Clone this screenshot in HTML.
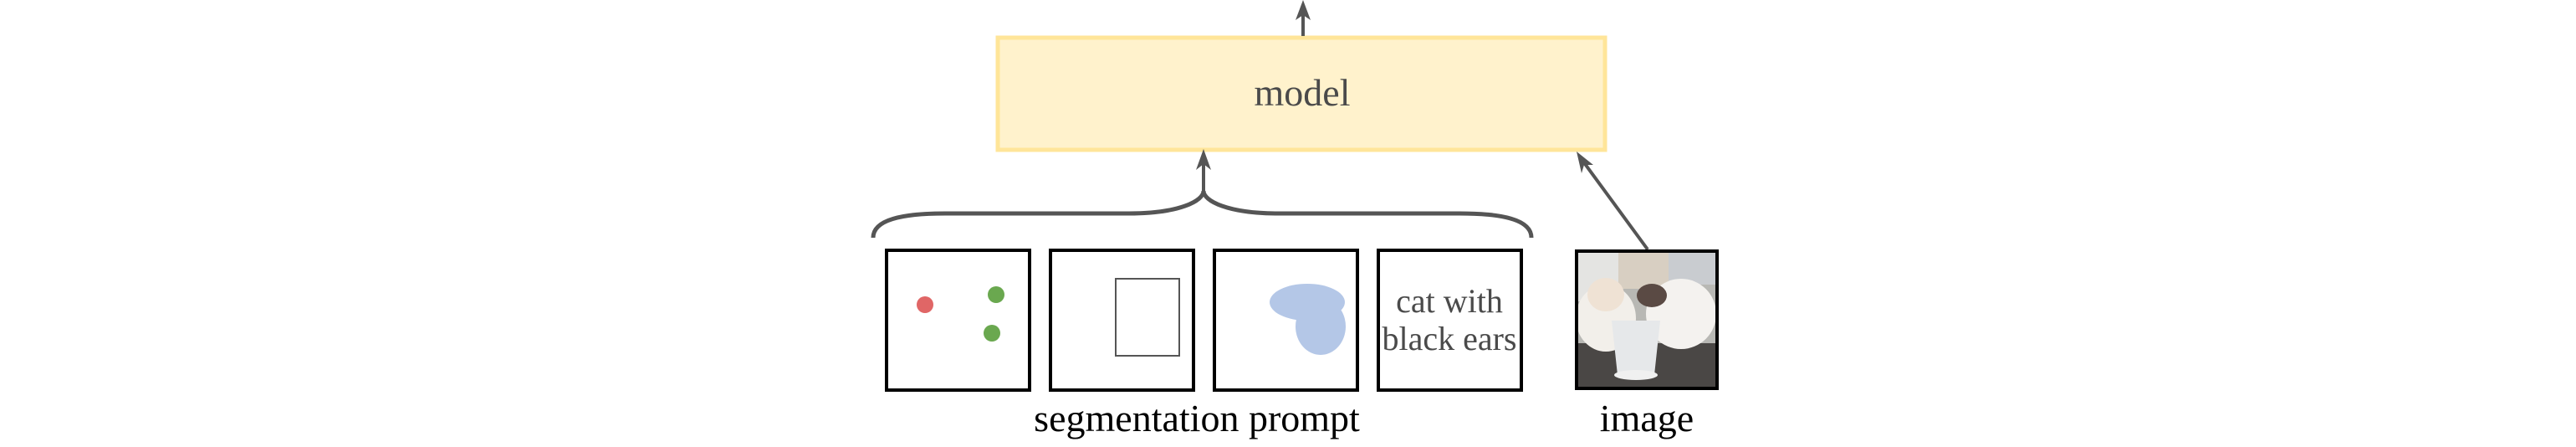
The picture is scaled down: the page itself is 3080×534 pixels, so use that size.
<!DOCTYPE html>
<html><head><meta charset="utf-8"><style>
html,body{margin:0;padding:0;background:#fff;}
svg{display:block;}
text{font-family:"Liberation Serif",serif;}
</style></head><body>
<svg width="3080" height="534" viewBox="0 0 3080 534" xmlns="http://www.w3.org/2000/svg">
<defs>
<clipPath id="imgclip"><rect x="1885" y="300" width="168" height="164"/></clipPath>
</defs>
<!-- model box -->
<rect x="1193" y="45" width="726" height="134" fill="#fff2cc" stroke="#ffe599" stroke-width="5"/>
<text x="1557" y="126" font-size="46" fill="#4a4a4a" text-anchor="middle">model</text>
<!-- top arrow -->
<line x1="1558" y1="43" x2="1558" y2="10" stroke="#555" stroke-width="4"/>
<polygon points="1558,0 1549,24 1558,18 1567,24" fill="#555"/>
<!-- prompt arrow -->
<line x1="1439" y1="233" x2="1439" y2="192" stroke="#555" stroke-width="4"/>
<polygon points="1439,178 1430,203 1439,196 1448,203" fill="#555"/>
<!-- brace -->
<path d="M1044,284 C1044,262 1080,255 1130,255 L1350,255 C1410,255 1439,240 1439,228 C1439,240 1468,255 1528,255 L1745,255 C1795,255 1831,262 1831,284" fill="none" stroke="#555" stroke-width="5"/>
<!-- image arrow -->
<line x1="1970" y1="298" x2="1893" y2="193" stroke="#555" stroke-width="4"/>
<polygon points="1885,181 1891,207 1894,197 1905,197" fill="#555"/>
<!-- prompt boxes -->
<g fill="#fff" stroke="#000" stroke-width="4">
<rect x="1060" y="299" width="171" height="167"/>
<rect x="1256" y="299" width="171" height="167"/>
<rect x="1452" y="299" width="171" height="167"/>
<rect x="1648" y="299" width="171" height="167"/>
</g>
<circle cx="1106" cy="364" r="10" fill="#e06666"/>
<circle cx="1191" cy="352" r="10" fill="#6aa84f"/>
<circle cx="1186" cy="398" r="10" fill="#6aa84f"/>
<rect x="1334" y="333" width="76" height="92" fill="none" stroke="#555" stroke-width="2"/>
<ellipse cx="1563" cy="361" rx="45" ry="22" fill="#b4c7e7"/>
<ellipse cx="1579" cy="390" rx="30" ry="34" fill="#b4c7e7"/>
<text x="1733" y="373" font-size="40" fill="#4a4a4a" text-anchor="middle">cat with</text>
<text x="1733" y="418" font-size="40" fill="#4a4a4a" text-anchor="middle">black ears</text>
<!-- image -->
<g clip-path="url(#imgclip)">
<rect x="1885" y="300" width="168" height="164" fill="#b8b8b4"/>
<rect x="1885" y="300" width="50" height="60" fill="#e4e4e2"/>
<rect x="1935" y="300" width="60" height="45" fill="#d8cfc2"/>
<rect x="1995" y="300" width="58" height="40" fill="#c9ccd0"/>
<rect x="1885" y="410" width="168" height="54" fill="#4a4745"/>
<ellipse cx="1920" cy="380" rx="36" ry="40" fill="#f2efea"/>
<ellipse cx="1920" cy="352" rx="22" ry="20" fill="#efe2d4"/>
<ellipse cx="2010" cy="375" rx="42" ry="42" fill="#f4f2ef"/>
<ellipse cx="1975" cy="353" rx="18" ry="14" fill="#5a4a44"/>
<path d="M1927,383 L1985,383 L1978,448 L1934,448 Z" fill="#e6e8ea"/>
<ellipse cx="1956" cy="448" rx="26" ry="6" fill="#f0f0f0"/>
</g>
<rect x="1885" y="300" width="168" height="164" fill="none" stroke="#000" stroke-width="4"/>
<!-- labels -->
<text x="1431" y="515" font-size="46" fill="#000" text-anchor="middle">segmentation prompt</text>
<text x="1969" y="515" font-size="46" fill="#000" text-anchor="middle">image</text>
</svg>
</body></html>
